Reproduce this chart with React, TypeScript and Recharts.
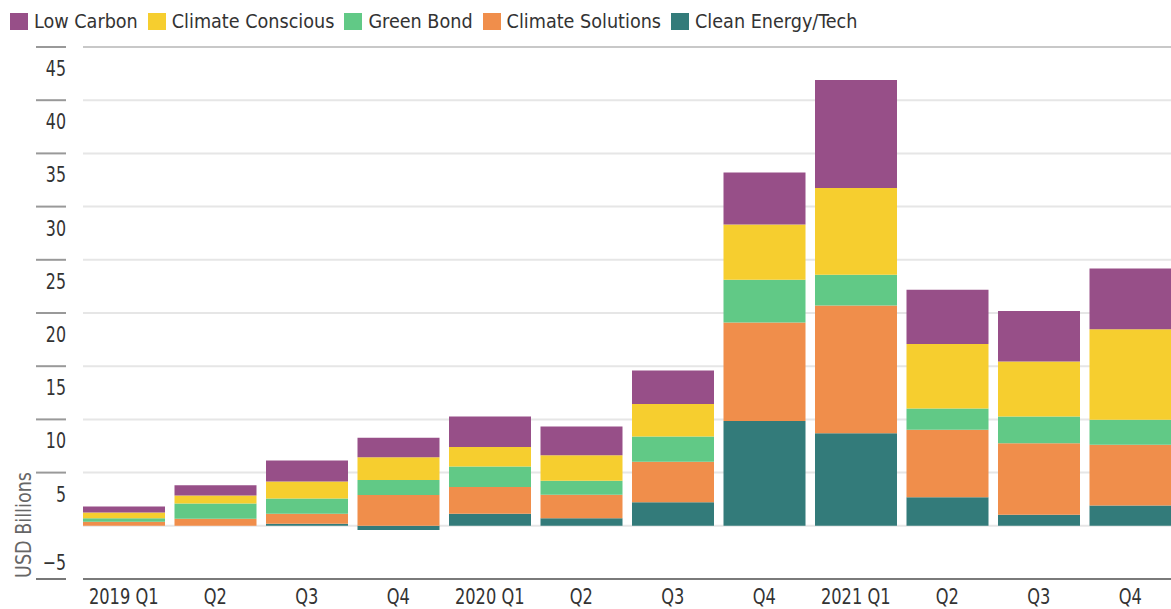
import React from 'react';
import { BarChart, Bar, XAxis, YAxis, CartesianGrid, Legend } from 'recharts';

const quarterIds = ['2019Q1', '2019Q2', '2019Q3', '2019Q4', '2020Q1', '2020Q2', '2020Q3', '2020Q4', '2021Q1', '2021Q2', '2021Q3', '2021Q4'];
const quarterLabels = ['2019 Q1', 'Q2', 'Q3', 'Q4', '2020 Q1', 'Q2', 'Q3', 'Q4', '2021 Q1', 'Q2', 'Q3', 'Q4'];

const cleanEnergy = [0, 0, 0.19, -0.4, 1.13, 0.72, 2.22, 9.84, 8.71, 2.69, 1.03, 1.91];
const climateSolutions = [0.38, 0.66, 0.94, 2.89, 2.51, 2.19, 3.8, 9.27, 11.99, 6.33, 6.74, 5.7];
const greenBond = [0.34, 1.44, 1.44, 1.41, 1.93, 1.32, 2.37, 4.01, 2.89, 2.0, 2.5, 2.35];
const climateConscious = [0.53, 0.75, 1.6, 2.15, 1.83, 2.41, 3.05, 5.2, 8.15, 6.06, 5.17, 8.52];
const lowCarbon = [0.56, 0.97, 1.97, 1.82, 2.87, 2.69, 3.16, 4.88, 10.16, 5.1, 4.74, 5.7];

const yTicks = [-5, 0, 5, 10, 15, 20, 25, 30, 35, 40, 45];

// stacking order bottom -> top
const series = [
  { key: 'clean', name: 'Clean Energy/Tech', color: '#337B7A', values: cleanEnergy },
  { key: 'solutions', name: 'Climate Solutions', color: '#F08E4B', values: climateSolutions },
  { key: 'green', name: 'Green Bond', color: '#61C986', values: greenBond },
  { key: 'conscious', name: 'Climate Conscious', color: '#F6CE2F', values: climateConscious },
  { key: 'low', name: 'Low Carbon', color: '#974F88', values: lowCarbon },
];
const legendOrder = [...series].reverse();

const data = quarterIds.map((id, i) => {
  const row: Record<string, any> = { id, label: quarterLabels[i] };
  series.forEach((s) => {
    row[s.key] = s.values[i];
  });
  return row;
});

const FONT = "'DejaVu Sans Condensed', 'Liberation Sans Narrow', sans-serif";

const LegendContent = () => (
  <div
    style={{
      display: 'flex',
      alignItems: 'center',
      height: 40,
      paddingLeft: 10,
      paddingTop: 2,
      boxSizing: 'border-box',
      fontFamily: FONT,
      fontSize: 19.6,
      color: '#333',
      whiteSpace: 'nowrap',
    }}
  >
    {legendOrder.map((s) => (
      <div key={s.key} style={{ display: 'flex', alignItems: 'center', marginRight: 10 }}>
        <span
          style={{
            display: 'inline-block',
            width: 18,
            height: 17,
            background: s.color,
            marginRight: 6,
          }}
        />
        <span>{s.name}</span>
      </div>
    ))}
  </div>
);

const YTick = (props: any) => {
  const { y, payload } = props;
  const v = payload.value;
  if (v === 0) return <g />;
  const neg = v < 0;
  const ty = neg ? y - 9 : y + 29;
  return (
    <g>
      <line x1={36} x2={66} y1={y} y2={y} stroke={neg ? '#777' : '#999'} strokeWidth={2} />
      <text
        x={0}
        y={0}
        transform={`translate(66, ${ty}) scale(0.8, 1)`}
        textAnchor="end"
        fontFamily={FONT}
        fontSize={22}
        fill="#333"
      >
        {neg ? '\u2212' + Math.abs(v) : v}
      </text>
    </g>
  );
};

const XTick = (props: any) => {
  const { x, payload } = props;
  const idx = quarterIds.indexOf(payload.value);
  return (
    <text
      x={0}
      y={0}
      transform={`translate(${x}, 604) scale(0.86, 1)`}
      textAnchor="middle"
      fontFamily={FONT}
      fontSize={21}
      fill="#333"
    >
      {quarterLabels[idx]}
    </text>
  );
};

const GridLine = (p: any) => {
  const y = p.y1;
  let stroke = '#e6e6e6';
  if (y < 60) stroke = '#c8c8c8';
  if (y > 570) stroke = '#7a7a7a';
  return <line key={p.key ?? 'g' + y} x1={83} x2={p.x2} y1={y} y2={p.y2} stroke={stroke} strokeWidth={2} />;
};

export default function App() {
  return (
    <div style={{ position: 'absolute', left: 0, top: 0, width: 1171, height: 609, overflow: 'hidden', background: '#fff' }}>
      <BarChart
        width={1176}
        height={609}
        data={data}
        stackOffset="sign"
        margin={{ top: 7, right: 0, bottom: 0, left: 0 }}
      >
        <CartesianGrid vertical={false} horizontal={GridLine} />
        <Legend verticalAlign="top" align="left" height={40} content={LegendContent} wrapperStyle={{ top: 0, left: 0 }} />
        <XAxis dataKey="id" height={30} tickLine={false} axisLine={false} interval={0} tick={XTick} />
        <YAxis
          type="number"
          domain={[-5, 45]}
          ticks={yTicks}
          interval={0}
          width={78}
          axisLine={false}
          tickLine={false}
          tick={YTick}
          label={{
            content: () => (
              <text
                x={0}
                y={0}
                transform="translate(31, 525) rotate(-90) scale(0.89, 1)"
                textAnchor="middle"
                fontFamily={FONT}
                fontSize={22}
                fill="#666"
              >
                USD Billions
              </text>
            ),
          }}
        />
        {series.map((s) => (
          <Bar key={s.key} dataKey={s.key} name={s.name} stackId="a" fill={s.color} barSize={82} isAnimationActive={false} />
        ))}
      </BarChart>
    </div>
  );
}
